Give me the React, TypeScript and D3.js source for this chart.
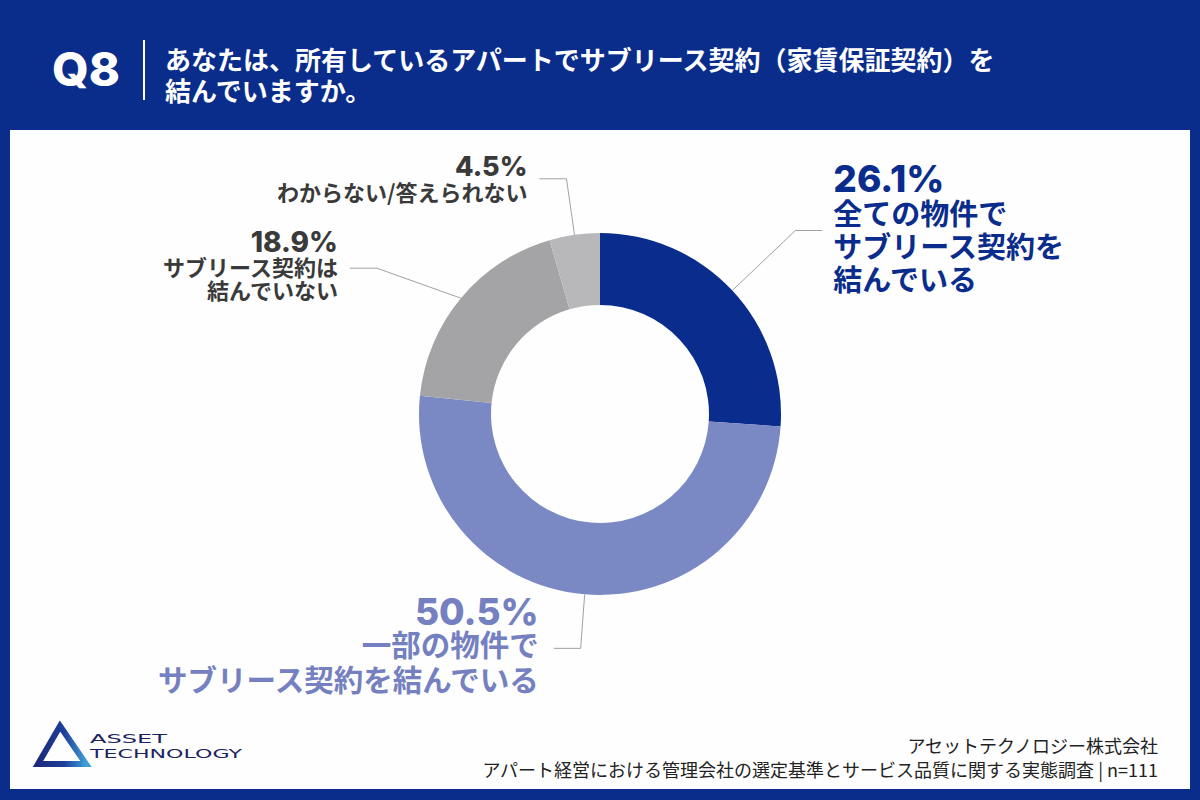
import React from 'react'
import * as d3 from 'd3'

// survey answers, clockwise from 12 o'clock
const categories = [
  '全ての物件でサブリース契約を結んでいる',
  '一部の物件でサブリース契約を結んでいる',
  'サブリース契約は結んでいない',
  'わからない/答えられない'
]
const values = [26.1, 50.5, 18.9, 4.5]
const labelLines = [
  ['全ての物件で', 'サブリース契約を', '結んでいる'],
  ['一部の物件で', 'サブリース契約を結んでいる'],
  ['サブリース契約は', '結んでいない'],
  ['わからない/答えられない']
]
const sliceColors = ['#0a2c8c', '#7a88c3', '#a4a4a7', '#b8b8bb']
const textColors = ['#0a2c8c', '#7480bf', '#3a3a3a', '#3a3a3a']

const questionNo = 'Q8'
const questionLines = [
  'あなたは、所有しているアパートでサブリース契約（家賃保証契約）を',
  '結んでいますか。'
]
const footerLines = [
  'アセットテクノロジー株式会社',
  'アパート経営における管理会社の選定基準とサービス品質に関する実態調査 | n=111'
]

// leader / label layout per slice
const labelLayout = [
  { elbow: [63, -60], dir: 1, gap: 11, pctSize: 37, pctDy: -39, lineSize: 29, lineDy: -6, lineStep: 33 },
  { elbow: [-4, 54], dir: -1, gap: 15, pctSize: 37, pctDy: -23, lineSize: 29.5, lineDy: 8, lineStep: 35 },
  { elbow: [-84, -30], dir: -1, gap: 12, pctSize: 28, pctDy: -16, lineSize: 22, lineDy: 8, lineStep: 23 },
  { elbow: [-8, -56], dir: -1, gap: 12, pctSize: 27, pctDy: -3, lineSize: 22, lineDy: 22, lineStep: 23 }
]

const W = 1200
const H = 800
const NAVY = '#0a2d8c'
const FONT = "Inter, 'Noto Sans CJK JP', sans-serif"
const JP = "'Noto Sans CJK JP', sans-serif"

export default function App () {
  const cx = 600
  const cy = 414
  const outerR = 181
  const innerR = 109

  const pie = d3.pie<number>().sort(null).value(d => d)
  const arcs = pie(values)
  const arc = d3.arc<d3.PieArcDatum<number>>().innerRadius(innerR).outerRadius(outerR)
  const rim = d3.arc<d3.PieArcDatum<number>>().innerRadius(outerR).outerRadius(outerR)

  return (
    <svg width={W} height={H} viewBox={`0 0 ${W} ${H}`} style={{ position: 'absolute', left: 0, top: 0, display: 'block' }}>
      <defs>
        <linearGradient id='logoGrad' x1='0' y1='0' x2='1' y2='0'>
          <stop offset='0' stopColor='#1b2a7a' />
          <stop offset='0.55' stopColor='#1e3f9a' />
          <stop offset='1' stopColor='#3fa0d8' />
        </linearGradient>
      </defs>
      <rect x={0} y={0} width={W} height={H} fill={NAVY} />
      <rect x={10} y={130} width={1180} height={659} fill='#fefefe' />

      {/* header */}
      <text x={52} y={86} fill='#fff' fontFamily={FONT} fontWeight={800} fontSize={47}>{questionNo}</text>
      <line x1={144} y1={40} x2={144} y2={100} stroke='#fff' strokeWidth={2} />
      {questionLines.map((t, i) => (
        <text key={i} x={165} y={70 + i * 31} fill='#fff' fontFamily={JP} fontWeight={700} fontSize={26}>{t}</text>
      ))}

      {/* donut */}
      <g transform={`translate(${cx},${cy})`}>
        {arcs.map((a, i) => (
          <path key={categories[i]} d={arc(a) || ''} fill={sliceColors[i]} />
        ))}
        {arcs.map((a, i) => {
          const L = labelLayout[i]
          const [ax, ay] = rim.centroid(a)
          const kx = ax + L.elbow[0]
          const ky = ay + L.elbow[1]
          const ex = kx + 27 * L.dir
          const tx = ex + L.gap * L.dir
          const anchor = L.dir > 0 ? 'start' : 'end'
          return (
            <g key={'lbl' + i}>
              <polyline points={`${ax},${ay} ${kx},${ky} ${ex},${ky}`} fill='none' stroke='#a0a0a8' strokeWidth={1} />
              <text x={tx} y={ky + L.pctDy} textAnchor={anchor} fill={textColors[i]} fontFamily={FONT} fontWeight={800} fontSize={L.pctSize}>
                {values[i].toFixed(1)}%
              </text>
              {labelLines[i].map((t, j) => (
                <text key={j} x={tx} y={ky + L.lineDy + j * L.lineStep} textAnchor={anchor} fill={textColors[i]} fontFamily={JP} fontWeight={700} fontSize={L.lineSize}>
                  {t}
                </text>
              ))}
            </g>
          )
        })}
      </g>

      {/* logo */}
      <path d='M60,726 L86,764 L38,764 Z' fill='none' stroke='url(#logoGrad)' strokeWidth={6} strokeLinejoin='miter' />
      <text x={90} y={743} fill='#1c2360' fontFamily="'DejaVu Sans', sans-serif" fontSize={13} textLength={77} lengthAdjust='spacingAndGlyphs'>ASSET</text>
      <text x={90} y={758} fill='#1c2360' fontFamily="'DejaVu Sans', sans-serif" fontSize={13} textLength={152} lengthAdjust='spacingAndGlyphs'>TECHNOLOGY</text>

      {/* footer */}
      {footerLines.map((t, i) => (
        <text key={i} x={1158} y={753 + i * 24} textAnchor='end' fill='#222' fontFamily={JP} fontSize={18}>{t}</text>
      ))}
    </svg>
  )
}
